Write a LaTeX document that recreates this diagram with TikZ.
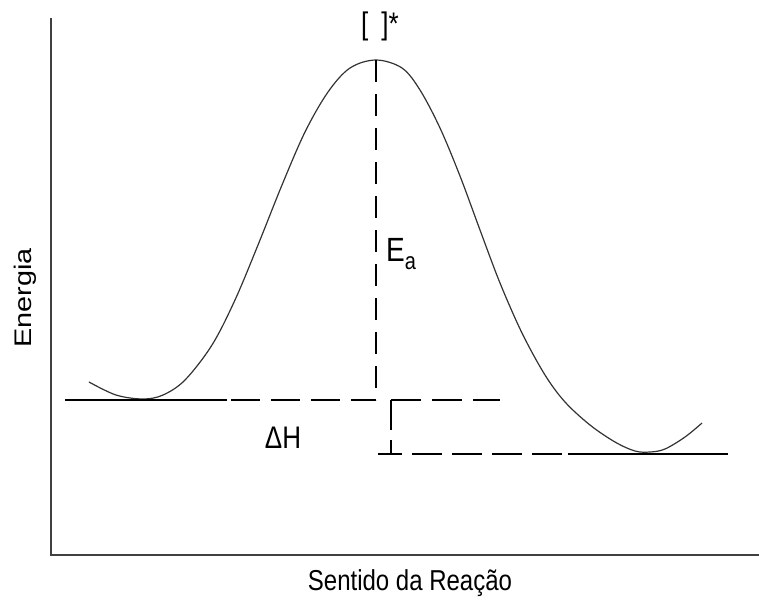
\documentclass[tikz,border=0pt]{standalone}
\usepackage{fontspec}
\setmainfont{Liberation Sans}
\usepackage{graphicx}
\newcommand\vstretch[1]{\scalebox{1}[1.2]{#1}}
\begin{document}
\begin{tikzpicture}[x=1pt,y=-1pt,
  curve/.style={line width=1.2pt, draw=black!80, line join=round},
  axis/.style={line width=2pt, draw=black!75},
  guide/.style={line width=1.4pt, draw=black},
  lbl/.style={inner sep=0pt, font=\fontsize{24}{28}\selectfont}]
\useasboundingbox (0,0) rectangle (759,603);
% axes
\coordinate (ytop) at (51,18);
\coordinate (orig) at (51,555);
\coordinate (xend) at (759,555);
\draw[axis] (ytop) -- (orig) -- (xend);
% energy curve
\draw[curve] plot[smooth, tension=0.55] coordinates {
 (89,382) (116,395) (143,399) (163,395) (185,380) (212,345) (235,300)
 (258,245) (282,185) (305,132) (328,92) (350,68) (376,60) (402,68)
 (420,90) (440,128) (460,176) (480,230) (500,283) (522,333) (545,375)
 (565,402) (590,425) (615,442) (635,451) (650,452) (665,449) (685,437) (702,423)};
% reactant level
\coordinate (r0) at (65,400);
\coordinate (r1) at (227,400);
\coordinate (r2) at (231,400);
\coordinate (peak) at (376,60);
\coordinate (pbase) at (376,400);
\draw[guide] (r0) -- (r1);
\draw[guide, dash pattern=on 29pt off 11pt] (r2) -- (pbase);
\draw[guide, dash pattern=on 22pt off 12pt] (peak) -- (pbase);
% right of peak
\coordinate (c0) at (391,400);
\coordinate (c1) at (500,400);
\coordinate (c2) at (391,454);
\draw[guide, dash pattern=on 30pt off 11pt] (c0) -- (c1);
\draw[guide, dash pattern=on 30pt off 10pt] (c0) -- (c2);
% product level
\coordinate (p0) at (378,454);
\coordinate (p1) at (563,454);
\coordinate (p2) at (568,454);
\coordinate (p3) at (728,454);
\draw[guide, dash pattern=on 30pt off 10pt, dash phase=6pt] (p0) -- (p1);
\draw[guide] (p2) -- (p3);
% labels
\node[lbl, anchor=west] (ts) at (361,26) {\vstretch{\fontsize{26}{30}\selectfont[\hspace{13pt}]*}};
\node[lbl, anchor=west] (ea) at (386,254) {\vstretch{\fontsize{28}{32}\selectfont E\raisebox{-6pt}{\fontsize{20}{24}\selectfont a}}};
\node[lbl] (dh) at (283,438) {\vstretch{\fontsize{26}{30}\selectfont ΔH}};
\node[lbl, rotate=90] (en) at (25,298) {\scalebox{1.2}[1]{Energia}};
\node[lbl] (sr) at (410,583) {\vstretch{Sentido da Reação}};
\end{tikzpicture}
\end{document}
